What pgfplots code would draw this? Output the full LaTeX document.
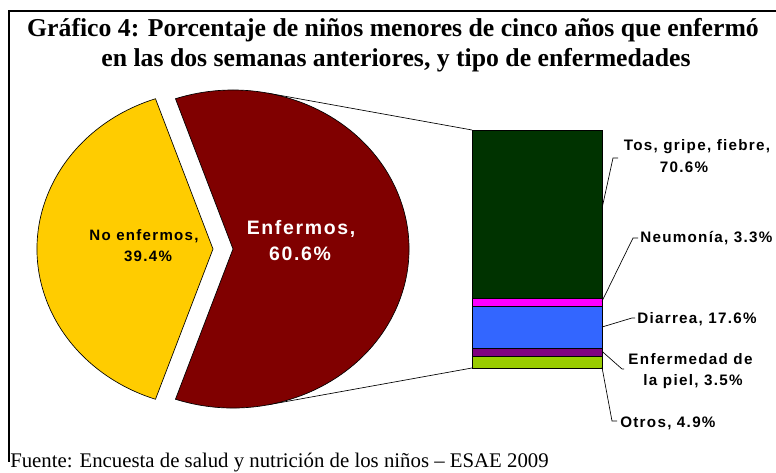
\documentclass[border=0pt]{standalone}
\usepackage{pgfplots}
\pgfplotsset{compat=1.18}
\usepackage{fontspec}
\setmainfont{Liberation Serif}
\newfontfamily\lab[LetterSpace=8.5, UprightFont={* Bold}, BoldFont={* Bold}]{Liberation Sans}

\definecolor{cNo}{HTML}{FFCC00}
\definecolor{cSi}{HTML}{800000}
\definecolor{cTos}{HTML}{003300}
\definecolor{cNeu}{HTML}{FF00FF}
\definecolor{cDia}{HTML}{3366FF}
\definecolor{cPiel}{HTML}{800080}
\definecolor{cOtr}{HTML}{99CC00}

% pie: % of children under five
\def\noEnf{39.4}
\def\siEnf{60.6}
\pgfmathsetmacro\hn{\noEnf*1.8}
\pgfmathsetmacro\hs{\siEnf*1.8}

\begin{document}
\begin{tikzpicture}
% main canvas, 1 unit = 1 px of the original (0.75pt)
\begin{axis}[at={(0pt,0pt)}, anchor=south west, scale only axis,
  width=582pt, height=354.75pt,
  xmin=0, xmax=776, ymin=0, ymax=473, y dir=reverse,
  hide axis, clip=false]
  % frame
  \draw[line width=1.1pt] (axis cs:9,462) -- (axis cs:9,11) -- (axis cs:776,11);
  % title
  \node[anchor=base, font=\bfseries\fontsize{19.3}{22.5}\selectfont, inner sep=0pt]
    at (axis cs:393,37) {Gráfico 4: Porcentaje de niños menores de cinco años que enfermó};
  \node[anchor=base, font=\bfseries\fontsize{19.3}{22.5}\selectfont, inner sep=0pt]
    at (axis cs:396,67) {en las dos semanas anteriores, y tipo de enfermedades};
  % connector lines (behind the pie)
  \draw[line width=0.5pt] (axis cs:267.5,93.1) -- (axis cs:472,130);
  \draw[line width=0.5pt] (axis cs:267.5,404.9) -- (axis cs:472,368);
  % pie slices
  \filldraw[fill=cNo, draw=black, line width=0.5pt] (axis cs:213,249)
    -- ++({180-\hn}:132pt and 119.25pt)
    arc[start angle={180-\hn}, end angle={180+\hn}, x radius=132pt, y radius=119.25pt] -- cycle;
  \filldraw[fill=cSi, draw=black, line width=0.5pt] (axis cs:233,249)
    -- ++({-\hs}:132pt and 119.25pt)
    arc[start angle={-\hs}, end angle={\hs}, x radius=132pt, y radius=119.25pt] -- cycle;
  \node[anchor=base, font=\lab\fontsize{11.3}{13}\selectfont, inner sep=0pt]
    at (axis cs:144,241) {No enfermos,};
  \node[anchor=base, font=\lab\fontsize{11.3}{13}\selectfont, inner sep=0pt]
    at (axis cs:148,262) {39.4\%};
  \node[anchor=base, text=white, font=\lab\fontsize{14.6}{17}\selectfont, inner sep=0pt]
    at (axis cs:301,235) {Enfermos,};
  \node[anchor=base, text=white, font=\lab\fontsize{14.6}{17}\selectfont, inner sep=0pt]
    at (axis cs:300,261) {60.6\%};
  % source
  \node[anchor=base west, font=\fontsize{15.6}{18}\selectfont, inner sep=0pt]
    at (axis cs:10,467.5) {Fuente: Encuesta de salud y nutrición de los niños – ESAE 2009};
\end{axis}

% stacked bar: type of illness among sick children (%)
\begin{axis}[at={(354pt,78.75pt)}, anchor=south west, scale only axis,
  width=97.5pt, height=178.5pt,
  xmin=-0.5, xmax=0.5, ymin=0, ymax=99.9,
  hide axis, clip=false, ybar stacked, bar width=97.5pt]
  \addplot[fill=cOtr, draw=black, line width=0.6pt] coordinates {(0,4.9)};
  \addplot[fill=cPiel, draw=black, line width=0.6pt] coordinates {(0,3.5)};
  \addplot[fill=cDia, draw=black, line width=0.6pt] coordinates {(0,17.6)};
  \addplot[fill=cNeu, draw=black, line width=0.6pt] coordinates {(0,3.3)};
  \addplot[fill=cTos, draw=black, line width=0.6pt] coordinates {(0,70.6)};
  \coordinate (otr) at (axis cs:0.5,0.3);
  \coordinate (piel) at (axis cs:0.5,7.0);
  \coordinate (dia) at (axis cs:0.5,17.2);
  \coordinate (neu) at (axis cs:0.5,28.0);
  \coordinate (tos) at (axis cs:0.5,67);
\end{axis}

% leader lines and labels, in px of the original
\begin{scope}[x=0.75pt, y=-0.75pt, shift={(0pt,354.75pt)},
  every node/.style={inner sep=0pt, font=\lab\fontsize{11.4}{13}\selectfont}]
  \draw[line width=0.5pt] (tos) -- (613,158) -- (618,158);
  \node[anchor=base] at (697,151) {Tos, gripe, fiebre,};
  \node[anchor=base] at (684,173) {70.6\%};
  \draw[line width=0.5pt] (neu) -- (633,238) -- (638,238);
  \node[anchor=base west] at (640,243) {Neumonía, 3.3\%};
  \draw[line width=0.5pt] (dia) -- (632,318) -- (635,318);
  \node[anchor=base west] at (637,324) {Diarrea, 17.6\%};
  \draw[line width=0.5pt] (piel) -- (622,369) -- (624,369);
  \node[anchor=base] at (690.5,365) {Enfermedad de};
  \node[anchor=base] at (693,386) {la piel, 3.5\%};
  \draw[line width=0.5pt] (otr) -- (612,421) -- (617,421);
  \node[anchor=base west] at (620,428) {Otros, 4.9\%};
\end{scope}

\pgfresetboundingbox
\path (0pt,0pt) rectangle (582pt,354.75pt);
\end{tikzpicture}
\end{document}
